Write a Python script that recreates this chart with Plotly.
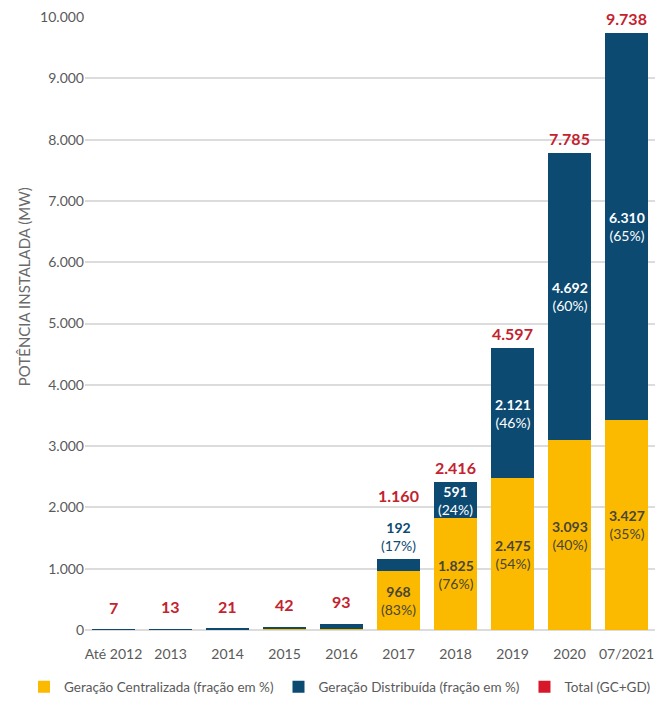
import plotly.graph_objects as go

categories = ["Até 2012", "2013", "2014", "2015", "2016", "2017", "2018", "2019", "2020", "07/2021"]
gc_values = [4, 7, 13, 21, 24, 968, 1825, 2475, 3093, 3427]
gd_values = [3, 6, 8, 21, 69, 192, 591, 2121, 4692, 6310]
totals = [7, 13, 21, 42, 93, 1160, 2416, 4597, 7785, 9738]
gc_pct = [None, None, None, None, None, 83, 76, 54, 40, 35]
gd_pct = [None, None, None, None, None, 17, 24, 46, 60, 65]
y_ticks = [0, 1000, 2000, 3000, 4000, 5000, 6000, 7000, 8000, 9000, 10000]
y_ticktext = ["0", "1.000", "2.000", "3.000", "4.000", "5.000", "6.000", "7.000", "8.000", "9.000", "10.000"]

YELLOW = "#FBBA00"
BLUE = "#0C4A72"
RED = "#C3222E"
RED_LEG = "#D7182A"
GC_TXT = "#4A4535"
GRAY = "#5A5A5A"
FONT = "Lato"


def fmt(v):
    return f"{v:,}".replace(",", ".")


fig = go.Figure()
fig.add_trace(go.Bar(x=categories, y=gc_values, name="Geração Centralizada (fração em %)",
                     marker=dict(color=YELLOW, line=dict(width=0)), hoverinfo="skip"))
fig.add_trace(go.Bar(x=categories, y=gd_values, name="Geração Distribuída (fração em %)",
                     marker=dict(color=BLUE, line=dict(width=0)), hoverinfo="skip"))
fig.add_trace(go.Scatter(x=[categories[0]], y=[None], mode="markers", name="Total (GC+GD)",
                         marker=dict(symbol="square", color=RED_LEG, size=10)))

annotations = []
for i, cat in enumerate(categories):
    gc, gd, tot = gc_values[i], gd_values[i], totals[i]
    if gc_pct[i] is not None:
        annotations.append(dict(x=i, y=gc / 2, xref="x", yref="y", showarrow=False,
                                text=f"<b>{fmt(gc)}</b><br>({gc_pct[i]}%)",
                                font=dict(family=FONT, size=14, color=GC_TXT), yanchor="middle"))
        seg_px = gd * 613 / 10000
        if seg_px > 30:
            annotations.append(dict(x=i, y=gc + gd / 2, xref="x", yref="y", showarrow=False,
                                    text=f"<b>{fmt(gd)}</b><br>({gd_pct[i]}%)",
                                    font=dict(family=FONT, size=14, color="white"), yanchor="middle"))
            tshift = 3
        else:
            annotations.append(dict(x=i, y=gc + gd, xref="x", yref="y", showarrow=False,
                                    text=f"<b>{fmt(gd)}</b><br>({gd_pct[i]}%)",
                                    font=dict(family=FONT, size=14, color=BLUE), yanchor="bottom", yshift=3))
            tshift = 52
    else:
        tshift = 11
    annotations.append(dict(x=i, y=gc + gd, xref="x", yref="y", showarrow=False,
                            text=f"<b>{fmt(tot)}</b>",
                            font=dict(family=FONT, size=16, color=RED), yanchor="bottom", yshift=tshift))

annotations.append(dict(x=-0.108, y=0.56, xref="paper", yref="paper", showarrow=False,
                        text="POTÊNCIA INSTALADA (MW)", textangle=-90,
                        font=dict(family=FONT, size=15, color="#6A6A6A"),
                        xanchor="center", yanchor="middle"))

fig.update_layout(
    width=659, height=702,
    margin=dict(l=85, r=4, t=17, b=72, autoexpand=False),
    barmode="stack", bargap=0.246,
    plot_bgcolor="white", paper_bgcolor="white",
    font=dict(family=FONT, size=14, color=GRAY),
    showlegend=True,
    legend=dict(orientation="h", xref="paper", yref="paper", x=-0.107, y=-0.093,
                xanchor="left", yanchor="middle", font=dict(family=FONT, size=13.5, color=GRAY),
                itemsizing="constant", traceorder="normal"),
    annotations=annotations,
)
fig.update_xaxes(type="category", categoryorder="array", categoryarray=categories,
                 range=[-0.5, len(categories) - 0.5], ticklabelstandoff=14, automargin=False,
                 showgrid=False, showline=False, ticks="", tickfont=dict(family=FONT, size=14, color=GRAY),
                 fixedrange=True)
fig.update_yaxes(range=[0, 10000], tickvals=y_ticks, ticktext=y_ticktext, showgrid=True, automargin=False,
                 gridcolor="#DCDCDC", gridwidth=1.5, zeroline=True, zerolinecolor="#DCDCDC", zerolinewidth=1.5,
                 showline=False, ticks="", tickfont=dict(family=FONT, size=14, color=GRAY), fixedrange=True)

fig.write_html("out.html")
